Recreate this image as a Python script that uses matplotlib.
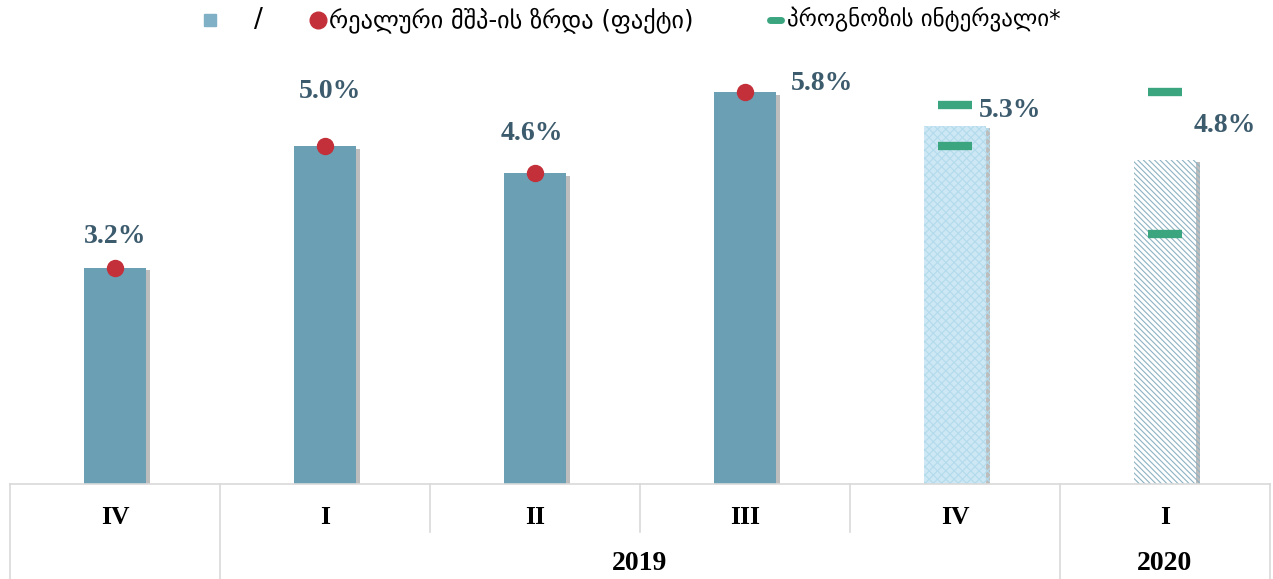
import matplotlib
matplotlib.use("Agg")
import matplotlib.pyplot as plt
from matplotlib.lines import Line2D
import matplotlib.patheffects as pe

quarters = ["IV", "I", "II", "III", "IV", "I"]
years = ["2019", "2020"]
growth = [3.2, 5.0, 4.6, 5.8, 5.3, 4.8]
actual = [3.2, 5.0, 4.6, 5.8]
forecast_low = [5.0, 3.7]
forecast_high = [5.6, 5.8]
legend_actual = "რეალური მშპ-ის ზრდა (ფაქტი)"
legend_interval = "პროგნოზის ინტერვალი*"

W, H = 1273, 579
fig = plt.figure(figsize=(W / 100, H / 100), dpi=100)
plt.rcParams['hatch.linewidth'] = 0.8

def fx(px):
    return px / W

def fy(py):
    return 1 - py / H

ax_left, ax_right = 10, 1270
ax_bottom, ax_top = 484, 45
ax = fig.add_axes([fx(ax_left), fy(ax_bottom), fx(ax_right - ax_left), (ax_bottom - ax_top) / H])
ymax = (ax_bottom - ax_top) / 67.6
ax.set_xlim(-0.5, 5.5)
ax.set_ylim(0, ymax)
ax.axis("off")

x = list(range(len(growth)))
shadow = [pe.SimplePatchShadow(offset=(3, -2), shadow_rgbFace="#888888", alpha=0.55), pe.Normal()]
styles = [
    dict(color="#6b9fb4"), dict(color="#6b9fb4"), dict(color="#6b9fb4"), dict(color="#6b9fb4"),
    dict(facecolor="#cde8f4", edgecolor="#b3dbec", hatch="xxxx", linewidth=0),
    dict(facecolor="white", edgecolor="#8db2c3", hatch="\\\\\\\\\\\\", linewidth=0),
]
for i, v in enumerate(growth):
    b = ax.bar(x[i], v, width=0.295, zorder=2, **styles[i])
    for p in b:
        p.set_path_effects(shadow)

ax.plot(x[:len(actual)], actual, "o", color="#c4303a", markersize=11.5, zorder=4, linestyle="none")

fx_pos = x[len(actual):]
for xs, ys in ((fx_pos, forecast_low), (fx_pos, forecast_high)):
    ax.plot(xs, ys, linestyle="none", marker="_", markersize=24, markeredgewidth=6,
            color="#3aa57f", zorder=5)

offsets = [(0.0, 0.46), (0.024, 0.80), (-0.014, 0.59), (0.367, 0.13), (0.262, 0.22), (0.286, 0.51)]
for i, v in enumerate(growth):
    dx, dy = offsets[i]
    ax.text(x[i] + dx, v + dy, f"{v:.1f}%", ha="center", va="center",
            fontsize=20, fontweight="bold", family="Liberation Serif", color="#3c5b6d", zorder=6)

# category table beneath the axis
tr = ax.get_xaxis_transform()
axh = ax_bottom - ax_top
def ay(py):
    return (ax_bottom - py) / axh

grid_c = "#d9d9d9"
ax.plot([-0.5, 5.5], [0, 0], color=grid_c, lw=1.2, transform=tr, clip_on=False)
for xb in [-0.5, 0.5, 4.5, 5.5]:
    ax.plot([xb, xb], [0, ay(H + 5)], color=grid_c, lw=1.2, transform=tr, clip_on=False)
for xb in [1.5, 2.5, 3.5]:
    ax.plot([xb, xb], [0, ay(532)], color=grid_c, lw=1.2, transform=tr, clip_on=False)

for i, q in enumerate(quarters):
    ax.text(x[i], ay(518), q, ha="center", va="center", transform=tr,
            fontsize=18.5, fontweight="bold", family="Liberation Serif", color="black")
ax.text(2.5, ay(563), years[0], ha="center", va="center", transform=tr,
        fontsize=20, fontweight="bold", family="Liberation Serif", color="black")
ax.text(5.0, ay(563), years[1], ha="center", va="center", transform=tr,
        fontsize=20, fontweight="bold", family="Liberation Serif", color="black")

# legend
ly = 20
fig.add_artist(Line2D([fx(210)], [fy(ly)], marker="s", markersize=9, color="#7fb0c5",
                      linestyle="none", transform=fig.transFigure))
fig.text(fx(258), fy(ly), "/", ha="center", va="center", fontsize=19, color="black")
fig.add_artist(Line2D([fx(318)], [fy(ly)], marker="o", markersize=12, color="#c4303a",
                      linestyle="none", transform=fig.transFigure))
fig.text(fx(329), fy(ly), legend_actual, ha="left", va="center", fontsize=17.5,
         family="DejaVu Sans", color="black")
fig.add_artist(Line2D([fx(770), fx(781)], [fy(ly), fy(ly)], lw=5, color="#3aa57f",
                      solid_capstyle="round", transform=fig.transFigure))
fig.text(fx(787), fy(ly), legend_interval, ha="left", va="center", fontsize=16.5,
         family="DejaVu Sans", color="black")

fig.savefig("out.png", dpi=100)
